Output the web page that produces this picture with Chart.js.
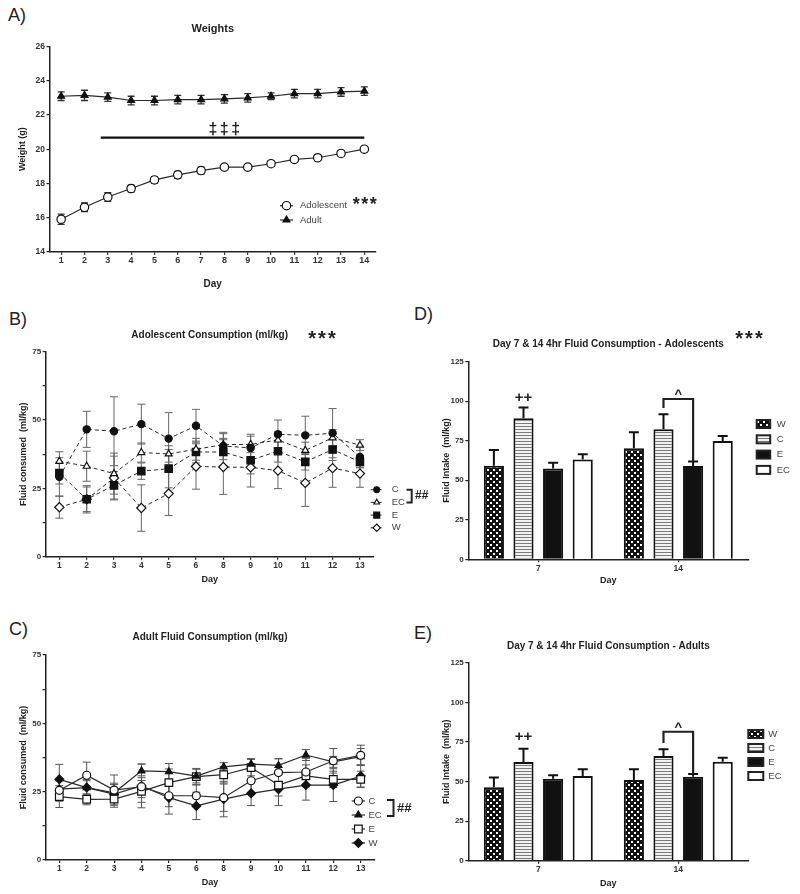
<!DOCTYPE html>
<html>
<head>
<meta charset="utf-8">
<script src="https://cdn.jsdelivr.net/npm/chart.js@4.4.0/dist/chart.umd.min.js"></script>
<style>
  body { margin: 0; background: #fff; }
  #page { position: relative; width: 800px; height: 894px; overflow: hidden; }
  #page canvas { position: absolute; left: 0; top: 0; }
  .panel { position: absolute; font: 18px "Liberation Sans", Arial, sans-serif; line-height: 1; color: #222; }
</style>
</head>
<body>
<div id="page">
  <div class="panel" style="left:8px;top:6px">A)</div>
  <div class="panel" style="left:9px;top:310px">B)</div>
  <div class="panel" style="left:414px;top:305px">D)</div>
  <div class="panel" style="left:9px;top:620px">C)</div>
  <div class="panel" style="left:414px;top:624px">E)</div>
  <canvas id="chartA" width="800" height="894"></canvas>
  <canvas id="chartB" width="800" height="894"></canvas>
  <canvas id="chartC" width="800" height="894"></canvas>
  <canvas id="chartD" width="800" height="894"></canvas>
  <canvas id="chartE" width="800" height="894"></canvas>
</div>
<script>
// ---- data ----
const weightDays = ['1', '2', '3', '4', '5', '6', '7', '8', '9', '10', '11', '12', '13', '14'];
const adolescentWeight = [15.9, 16.6, 17.2, 17.7, 18.2, 18.5, 18.75, 18.95, 18.95, 19.15, 19.4, 19.5, 19.75, 20.0];
const adolescentWeightErr = [0.3, 0.25, 0.25, 0.2, 0.2, 0.2, 0.2, 0.15, 0.15, 0.15, 0.15, 0.15, 0.15, 0.15];
const adultWeight = [23.1, 23.15, 23.05, 22.85, 22.85, 22.9, 22.9, 22.95, 23.0, 23.1, 23.25, 23.25, 23.35, 23.4];
const adultWeightErr = [0.25, 0.3, 0.25, 0.25, 0.25, 0.25, 0.25, 0.25, 0.25, 0.2, 0.25, 0.25, 0.25, 0.25];

const drinkDays = ['1', '2', '3', '4', '5', '6', '8', '9', '10', '11', '12', '13'];
const adoC = [29.2, 46.6, 45.9, 48.5, 43.2, 47.9, 40.5, 39.8, 44.8, 44.4, 45.2, 36.5];
const adoCErr = [7, 6.6, 12.6, 7.3, 9.5, 6, 5, 5, 5.2, 7, 9, 4];
const adoEC = [34.9, 33.1, 30.4, 38.1, 37.6, 39.3, 41, 41.1, 42.7, 38.9, 43.5, 40.8];
const adoECErr = [3.5, 5.5, 7.5, 3.5, 3, 4, 4, 3, 3, 3, 3, 2];
const adoE = [30.6, 21, 26.1, 31.3, 32.2, 38.3, 38.3, 35.3, 38.6, 34.7, 39.2, 34.7];
const adoEErr = [4, 4.5, 5, 3, 7, 4, 5, 5, 4, 3, 4, 2];
const adoW = [18.1, 21, 28.8, 17.8, 23.1, 33, 32.8, 32.7, 31.5, 27, 32.4, 30.4];
const adoWErr = [4, 5, 8, 8.5, 8, 8.3, 10, 7.2, 6.6, 8.6, 7, 5];

const adC = [25.5, 31, 25.6, 26.8, 23.5, 23.5, 22.8, 29, 32, 32.2, 36.3, 38.3];
const adCErr = [4, 4.8, 5.5, 4, 4, 4, 5, 5, 5, 5, 4.5, 3.7];
const adEC = [25.9, 26.5, 24.6, 32.6, 32.3, 30.7, 34.1, 35.1, 34.6, 38.4, 35.9, 37.8];
const adECErr = [3, 2.5, 3, 2.5, 3, 2.5, 1.5, 2, 2.5, 2, 2, 3];
const adE = [23.2, 22.2, 22.3, 25.1, 28.3, 30.5, 31.2, 33.8, 27.4, 30.8, 29.5, 29.5];
const adEErr = [4, 2, 3, 4, 5, 3, 3, 3, 4, 4, 3, 3];
const adW = [29.5, 26.5, 24.1, 27.1, 22.8, 19.8, 22.3, 24.4, 25.9, 27.4, 27.4, 30.7];
const adWErr = [5.5, 3, 4, 8, 6, 5, 6.5, 4.5, 6, 5.5, 6, 4];

const intakeDays = ['7', '14'];
const adoIntakeW = [59.2, 70.2];
const adoIntakeWErr = [9.9, 10.1];
const adoIntakeC = [89.2, 82.2];
const adoIntakeCErr = [6.9, 9.5];
const adoIntakeE = [57.5, 59.0];
const adoIntakeEErr = [3.6, 2.8];
const adoIntakeEC = [63.2, 74.8];
const adoIntakeECErr = [3.2, 3.2];

const adIntakeW = [46.3, 50.9];
const adIntakeWErr = [6.3, 6.8];
const adIntakeC = [62.3, 66.1];
const adIntakeCErr = [8.4, 4.2];
const adIntakeE = [51.8, 53.0];
const adIntakeEErr = [2.1, 1.7];
const adIntakeEC = [53.5, 62.5];
const adIntakeECErr = [4.2, 2.5];

// ---- common look ----
const FONT = '"Liberation Sans", Arial, sans-serif';
const INK = '#222';
Chart.defaults.font.family = FONT;
Chart.defaults.color = '#333';

// error bars drawn from each dataset's "errors" array
function drawErrorBars(chart, opts) {
  const ctx = chart.ctx;
  const yScale = chart.scales.y;
  ctx.save();
  ctx.strokeStyle = opts.color;
  ctx.lineWidth = opts.lineWidth;
  chart.data.datasets.forEach((ds, i) => {
    if (!ds.errors) return;
    chart.getDatasetMeta(i).data.forEach((el, j) => {
      const v = ds.data[j], e = ds.errors[j];
      const x = el.x;
      const yTop = yScale.getPixelForValue(v + e);
      const yBot = yScale.getPixelForValue(opts.upOnly ? v : v - e);
      ctx.beginPath();
      ctx.moveTo(x, yBot);
      ctx.lineTo(x, yTop);
      ctx.moveTo(x - opts.cap, yTop);
      ctx.lineTo(x + opts.cap, yTop);
      if (!opts.upOnly) {
        ctx.moveTo(x - opts.cap, yBot);
        ctx.lineTo(x + opts.cap, yBot);
      }
      ctx.stroke();
    });
  });
  ctx.restore();
}

Chart.register({
  id: 'errorBars',
  beforeDatasetsDraw(chart, args, opts) { if (opts.layer === 'before') drawErrorBars(chart, opts); },
  afterDatasetsDraw(chart, args, opts) { if (opts.layer === 'after') drawErrorBars(chart, opts); }
});

function marker(ctx, ds, x, y, scale) {
  ctx.fillStyle = ds.pointBackgroundColor;
  ctx.strokeStyle = ds.pointBorderColor;
  ctx.lineWidth = ds.pointBorderWidth;
  Chart.helpers.drawPoint(ctx, {
    pointStyle: ds.pointStyle, rotation: 0,
    radius: ds.pointRadius * scale, borderWidth: ds.pointBorderWidth
  }, x, y);
}

// legend: line segment with marker, then label
function lineLegend(chart, s) {
  const ctx = chart.ctx;
  ctx.save();
  chart.data.datasets.forEach((ds, i) => {
    const y = s.y + i * s.dy;
    ctx.strokeStyle = ds.borderColor;
    ctx.lineWidth = ds.borderWidth;
    ctx.setLineDash(ds.borderDash || []);
    ctx.beginPath();
    ctx.moveTo(s.x0, y);
    ctx.lineTo(s.x1, y);
    ctx.stroke();
    ctx.setLineDash([]);
    marker(ctx, ds, (s.x0 + s.x1) / 2, y, s.r || 1);
    ctx.fillStyle = '#444';
    ctx.font = '9.5px ' + FONT;
    ctx.textBaseline = 'middle';
    ctx.textAlign = 'left';
    ctx.fillText(ds.label, s.tx, y);
  });
  ctx.restore();
}

// legend: filled box swatch, then label
function boxLegend(chart, s) {
  const ctx = chart.ctx;
  ctx.save();
  chart.data.datasets.forEach((ds, i) => {
    const y = s.y + i * s.dy;
    ctx.fillStyle = ds.backgroundColor;
    ctx.fillRect(s.x, y - s.h / 2, s.w, s.h);
    ctx.strokeStyle = INK;
    ctx.lineWidth = 2;
    ctx.strokeRect(s.x, y - s.h / 2, s.w, s.h);
    ctx.fillStyle = '#444';
    ctx.font = '9.5px ' + FONT;
    ctx.textBaseline = 'middle';
    ctx.textAlign = 'left';
    ctx.fillText(ds.label, s.tx, y);
  });
  ctx.restore();
}

function stars(ctx, text, cx, base, size, spacing) {
  ctx.save();
  ctx.fillStyle = INK;
  ctx.font = 'bold ' + size + 'px ' + FONT;
  ctx.letterSpacing = spacing + 'px';
  ctx.textAlign = 'center';
  ctx.textBaseline = 'alphabetic';
  ctx.fillText(text, cx, base);
  ctx.restore();
}

// "]##" joining the first two legend rows
function pairBracket(ctx, x0, x1, y0, y1, tx, size) {
  ctx.save();
  ctx.strokeStyle = INK;
  ctx.lineWidth = 2;
  ctx.beginPath();
  ctx.moveTo(x0, y0); ctx.lineTo(x1, y0); ctx.lineTo(x1, y1); ctx.lineTo(x0, y1);
  ctx.stroke();
  ctx.fillStyle = INK;
  ctx.font = 'bold ' + size + 'px ' + FONT;
  ctx.textBaseline = 'middle';
  ctx.textAlign = 'left';
  ctx.fillText('##', tx, (y0 + y1) / 2);
  ctx.restore();
}

// "++" over the C bar of day 7, bracket "^" between C and E on day 14
function barMarks(chart, cData, cErr, eData, eErr, plusGap, topValue) {
  const ctx = chart.ctx;
  const y = chart.scales.y;
  const c7 = chart.getDatasetMeta(1).data[0];
  const c14 = chart.getDatasetMeta(1).data[1];
  const e14 = chart.getDatasetMeta(2).data[1];
  ctx.save();
  ctx.fillStyle = INK;
  ctx.font = 'bold 15px ' + FONT;
  ctx.textAlign = 'center';
  ctx.textBaseline = 'middle';
  ctx.fillText('++', c7.x, y.getPixelForValue(cData[0] + cErr[0]) - plusGap);
  const top = y.getPixelForValue(topValue);
  ctx.strokeStyle = INK;
  ctx.lineWidth = 2.2;
  ctx.beginPath();
  ctx.moveTo(c14.x, y.getPixelForValue(cData[1] + cErr[1] + 4));
  ctx.lineTo(c14.x, top);
  ctx.lineTo(e14.x, top);
  ctx.lineTo(e14.x, y.getPixelForValue(eData[1] + eErr[1]));
  ctx.stroke();
  ctx.font = 'bold 13px ' + FONT;
  ctx.textBaseline = 'alphabetic';
  ctx.fillText('^', (c14.x + e14.x) / 2, top - 1);
  ctx.restore();
}

function makePattern(w, h, paint) {
  const tile = document.createElement('canvas');
  tile.width = w;
  tile.height = h;
  const tctx = tile.getContext('2d');
  paint(tctx);
  return tctx.createPattern(tile, 'repeat');
}

const dottedFill = makePattern(6, 6, (c) => {
  c.fillStyle = '#111';
  c.fillRect(0, 0, 6, 6);
  c.fillStyle = '#fff';
  c.fillRect(1, 1, 2, 2);
  c.fillRect(4, 4, 2, 2);
});
const stripedFill = makePattern(4, 3, (c) => {
  c.fillStyle = '#f2f2f2';
  c.fillRect(0, 0, 4, 3);
  c.fillStyle = '#7a7a7a';
  c.fillRect(0, 0, 4, 1);
});

function axisX(height, tickPad, titleSize, titleBottom) {
  return {
    type: 'category',
    offset: true,
    grid: { display: true, drawOnChartArea: false, drawTicks: true, tickLength: 3, offset: false, color: INK, lineWidth: 1.2 },
    border: { display: true, color: INK, width: 1.5 },
    ticks: { font: { size: 8.5, weight: 'bold' }, color: '#333', padding: tickPad, maxRotation: 0, autoSkip: false },
    title: { display: true, text: 'Day', color: INK, font: { size: titleSize, weight: 'bold' }, padding: { top: 0, bottom: titleBottom } },
    afterFit(s) { s.height = height; }
  };
}

function axisY(width, min, max, step, labelEvery, title, titleTop) {
  return {
    min: min, max: max,
    grid: { display: true, drawOnChartArea: false, drawTicks: true, tickLength: 3, color: INK, lineWidth: 1.2 },
    border: { display: true, color: INK, width: 1.5 },
    ticks: {
      stepSize: step, padding: 1.5, color: '#333',
      font: { size: 8, weight: 'bold' },
      callback: (v) => (Math.abs(v / labelEvery - Math.round(v / labelEvery)) < 1e-6 ? v : '')
    },
    title: { display: true, text: title, color: INK, font: { size: 9, weight: 'bold' }, padding: { top: titleTop, bottom: 0 } },
    afterFit(s) { s.width = width; }
  };
}

function lineSet(label, data, errors, style, radius, filled, dashed) {
  return {
    label: label, data: data, errors: errors,
    borderColor: '#2a2a2a', borderWidth: dashed ? 1 : 1.2,
    borderDash: dashed ? [4, 3] : [],
    pointStyle: style, pointRadius: radius,
    pointBackgroundColor: filled ? '#111' : '#fff',
    pointBorderColor: '#111', pointBorderWidth: 1.2,
    tension: 0
  };
}

function barSet(label, data, errors, fill) {
  return { label: label, data: data, errors: errors, backgroundColor: fill, borderColor: '#111', borderWidth: 2 };
}

function titleOpts(text, size, top, bottom) {
  return { display: true, text: text, fullSize: false, color: INK, font: { size: size, weight: 'bold' }, padding: { top: top, bottom: bottom } };
}

// ---- A) Weights ----
const weightA = axisY(49.5, 14, 26, 2, 2, 'Weight (g)', 17.3);
weightA.ticks.font.size = 8.5;
const dayA = axisX(48.3, 0, 10, 9.7);
dayA.ticks.font.size = 9;
new Chart(document.getElementById('chartA'), {
  type: 'line',
  data: {
    labels: weightDays,
    datasets: [
      lineSet('Adolescent', adolescentWeight, adolescentWeightErr, 'circle', 4.2, false, false),
      lineSet('Adult', adultWeight, adultWeightErr, 'triangle', 4, true, false)
    ]
  },
  options: {
    responsive: false, animation: false, events: [],
    layout: { padding: { left: 0, top: 0, right: 424, bottom: 594 } },
    plugins: {
      legend: { display: false }, tooltip: { enabled: false },
      title: titleOpts('Weights', 11, 22.4, 11.1),
      errorBars: { layer: 'before', color: '#333', lineWidth: 1.3, cap: 3.5, upOnly: false }
    },
    scales: { x: dayA, y: weightA }
  },
  plugins: [{
    id: 'weightMarks',
    afterDraw(chart) {
      const ctx = chart.ctx;
      const x = chart.scales.x, y = chart.scales.y;
      // significance bar from day ~2.7 to day 14
      const ySig = y.getPixelForValue(20.68);
      ctx.save();
      ctx.strokeStyle = '#111';
      ctx.lineWidth = 2.2;
      ctx.beginPath();
      ctx.moveTo(x.getPixelForValue(1.7), ySig);
      ctx.lineTo(x.getPixelForValue(13), ySig);
      ctx.stroke();
      ctx.restore();
      stars(ctx, '\u2021\u2021\u2021', 225.5, 133.5, 16, 2.5);
      stars(ctx, '***', 365.5, 209.5, 18, 1.5);
      lineLegend(chart, { x0: 280, x1: 293, y: 205.7, dy: 14.3, tx: 300 });
    }
  }]
});

// ---- B) Adolescent consumption ----
new Chart(document.getElementById('chartB'), {
  type: 'line',
  data: {
    labels: drinkDays,
    datasets: [
      lineSet('C', adoC, adoCErr, 'circle', 3.6, true, true),
      lineSet('EC', adoEC, adoECErr, 'triangle', 4, false, true),
      lineSet('E', adoE, adoEErr, 'rect', 5.2, true, true),
      lineSet('W', adoW, adoWErr, 'rectRot', 4.6, false, true)
    ]
  },
  options: {
    responsive: false, animation: false, events: [],
    layout: { padding: { left: 0, top: 300, right: 426.4, bottom: 304 } },
    plugins: {
      legend: { display: false }, tooltip: { enabled: false },
      title: titleOpts('Adolescent Consumption (ml/kg)', 10, 29, 10.7),
      errorBars: { layer: 'before', color: '#666', lineWidth: 1, cap: 4, upOnly: false }
    },
    scales: {
      x: axisX(33.3, 1, 9, 5.3),
      y: axisY(45.7, 0, 75, 12.5, 25, 'Fluid consumed  (ml/kg)', 17.9)
    }
  },
  plugins: [{
    id: 'adoMarks',
    afterDraw(chart) {
      const ctx = chart.ctx;
      stars(ctx, '***', 323, 344.5, 20, 2);
      lineLegend(chart, { x0: 370.7, x1: 382.7, y: 489.7, dy: 12.7, tx: 391.7, r: 0.8 });
      pairBracket(ctx, 406.5, 411.7, 489.7, 502.4, 415, 12);
    }
  }]
});

// ---- C) Adult consumption ----
new Chart(document.getElementById('chartC'), {
  type: 'line',
  data: {
    labels: drinkDays,
    datasets: [
      lineSet('C', adC, adCErr, 'circle', 4, false, false),
      lineSet('EC', adEC, adECErr, 'triangle', 4, true, false),
      lineSet('E', adE, adEErr, 'rect', 5.4, false, false),
      lineSet('W', adW, adWErr, 'rectRot', 4.4, true, false)
    ]
  },
  options: {
    responsive: false, animation: false, events: [],
    layout: { padding: { left: 0, top: 590, right: 425.6, bottom: 0 } },
    plugins: {
      legend: { display: false }, tooltip: { enabled: false },
      title: titleOpts('Adult Fluid Consumption (ml/kg)', 10, 41.7, 11.3),
      errorBars: { layer: 'before', color: '#555', lineWidth: 1, cap: 4, upOnly: false }
    },
    scales: {
      x: axisX(34, 1, 9, 5.9),
      y: axisY(45.6, 0, 75, 12.5, 25, 'Fluid consumed  (ml/kg)', 17.9)
    }
  },
  plugins: [{
    id: 'adultMarks',
    afterDraw(chart) {
      lineLegend(chart, { x0: 351.7, x1: 365, y: 801, dy: 14, tx: 368.5 });
      pairBracket(chart.ctx, 387, 393.5, 800, 816, 397, 13);
    }
  }]
});

// ---- D) Day 7 & 14 adolescents ----
new Chart(document.getElementById('chartD'), {
  type: 'bar',
  data: {
    labels: intakeDays,
    datasets: [
      barSet('W', adoIntakeW, adoIntakeWErr, dottedFill),
      barSet('C', adoIntakeC, adoIntakeCErr, stripedFill),
      barSet('E', adoIntakeE, adoIntakeEErr, '#111'),
      barSet('EC', adoIntakeEC, adoIntakeECErr, '#fff')
    ]
  },
  options: {
    responsive: false, animation: false, events: [],
    layout: { padding: { left: 430, top: 300, right: 51.7, bottom: 304 } },
    datasets: { bar: { categoryPercentage: 0.846, barPercentage: 0.68 } },
    plugins: {
      legend: { display: false }, tooltip: { enabled: false },
      title: titleOpts('Day 7 & 14 4hr Fluid Consumption - Adolescents', 10, 38, 11.7),
      errorBars: { layer: 'after', color: '#111', lineWidth: 2, cap: 5, upOnly: true }
    },
    scales: {
      x: axisX(30.7, 1.5, 9, 3.6),
      y: axisY(38.3, 0, 125, 25, 25, 'Fluid Intake  (ml/kg)', 11.3)
    }
  },
  plugins: [{
    id: 'adoBarMarks',
    afterDraw(chart) {
      barMarks(chart, adoIntakeC, adoIntakeCErr, adoIntakeE, adoIntakeEErr, 9.5, 101.4);
      stars(chart.ctx, '***', 750, 344.5, 20, 2);
      boxLegend(chart, { x: 756.7, w: 13.5, h: 8, y: 424, dy: 15.3, tx: 776.7 });
    }
  }]
});

// ---- E) Day 7 & 14 adults ----
new Chart(document.getElementById('chartE'), {
  type: 'bar',
  data: {
    labels: intakeDays,
    datasets: [
      barSet('W', adIntakeW, adIntakeWErr, dottedFill),
      barSet('C', adIntakeC, adIntakeCErr, stripedFill),
      barSet('E', adIntakeE, adIntakeEErr, '#111'),
      barSet('EC', adIntakeEC, adIntakeECErr, '#fff')
    ]
  },
  options: {
    responsive: false, animation: false, events: [],
    layout: { padding: { left: 430, top: 590, right: 51.7, bottom: 0 } },
    datasets: { bar: { categoryPercentage: 0.846, barPercentage: 0.68 } },
    plugins: {
      legend: { display: false }, tooltip: { enabled: false },
      title: titleOpts('Day 7 & 14 4hr Fluid Consumption - Adults', 10, 50, 10.7),
      errorBars: { layer: 'after', color: '#111', lineWidth: 2, cap: 5, upOnly: true }
    },
    scales: {
      x: axisX(33.3, 0.5, 9, 5.3),
      y: axisY(38.3, 0, 125, 25, 25, 'Fluid Intake  (ml/kg)', 11.3)
    }
  },
  plugins: [{
    id: 'adultBarMarks',
    afterDraw(chart) {
      barMarks(chart, adIntakeC, adIntakeCErr, adIntakeE, adIntakeEErr, 12, 81.4);
      boxLegend(chart, { x: 748.3, w: 15, h: 8, y: 734, dy: 14, tx: 768.3 });
    }
  }]
});
</script>
</body>
</html>
